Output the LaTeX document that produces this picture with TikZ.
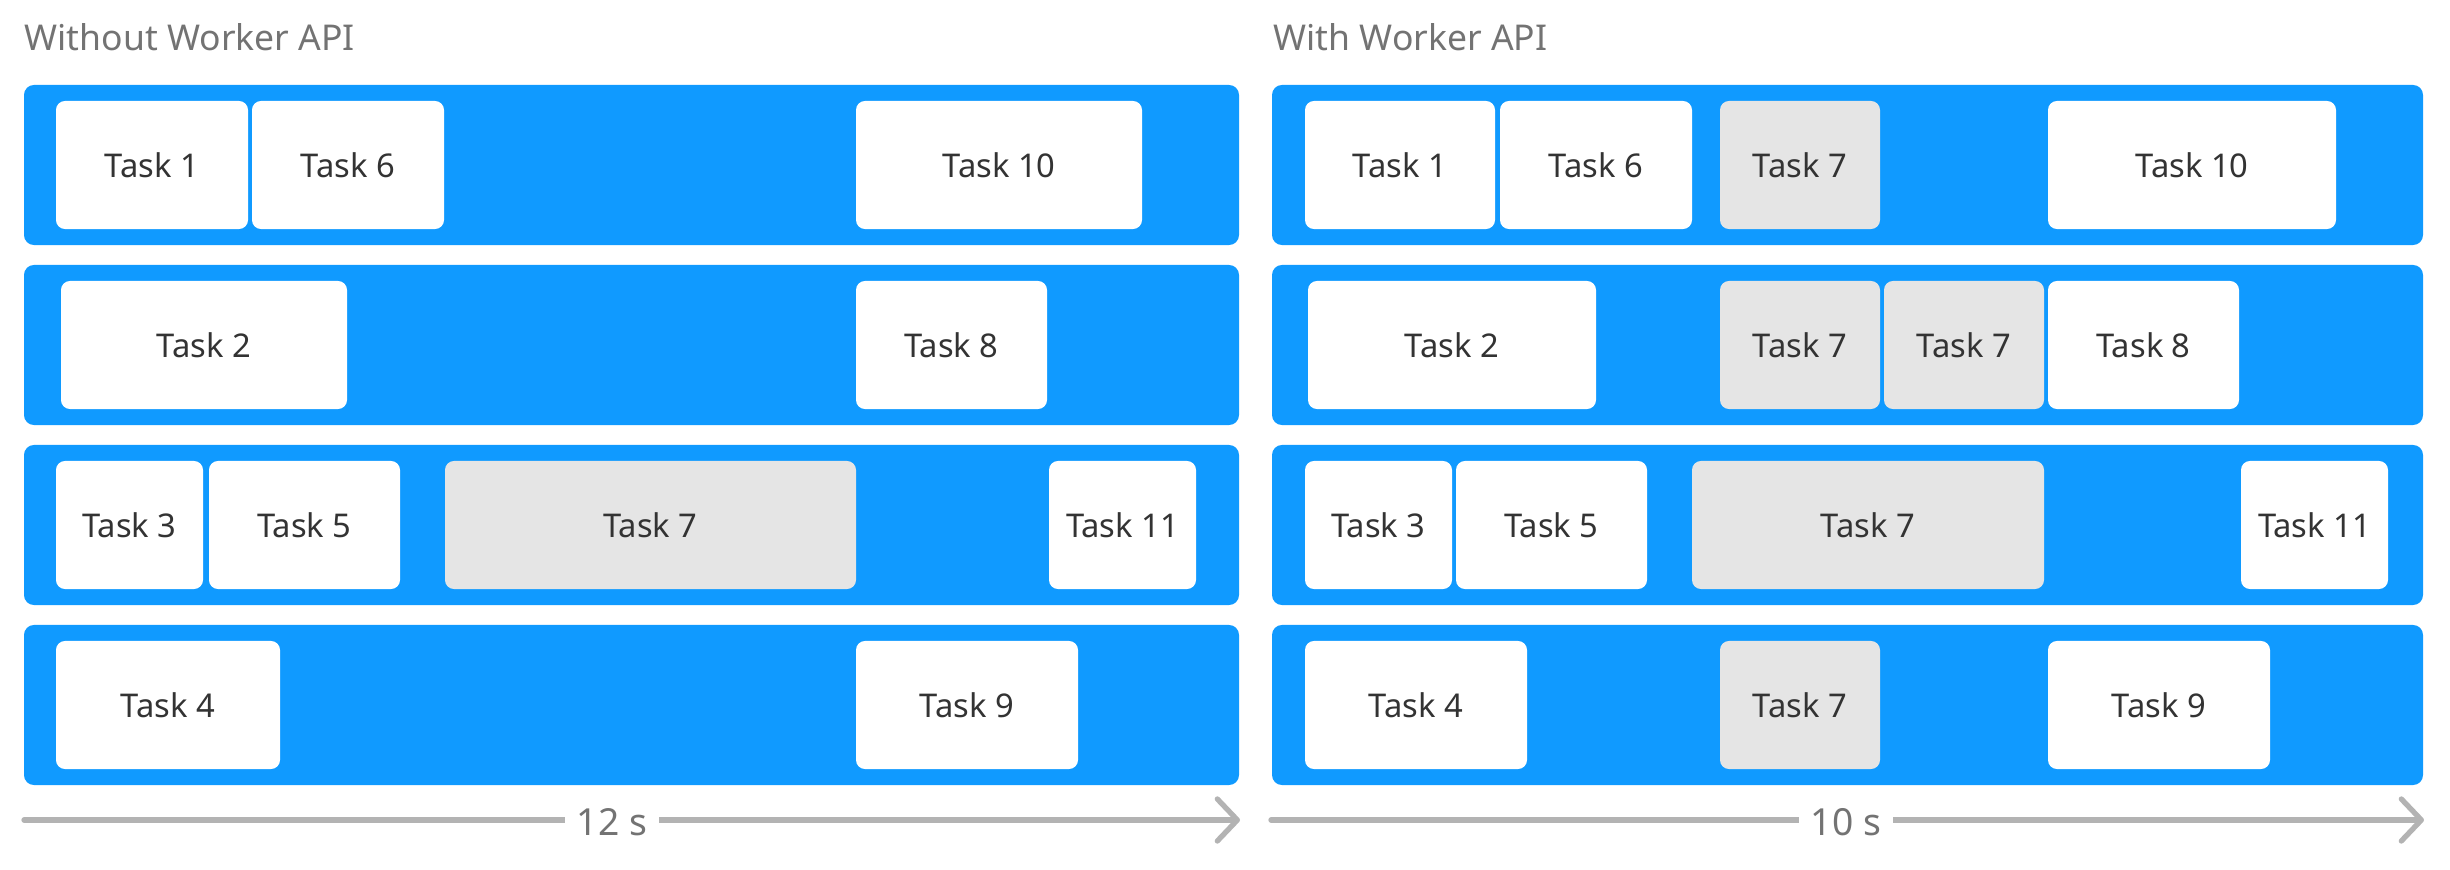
\documentclass[tikz,border=0pt]{standalone}
\usepackage{fontspec}
\setmainfont{Noto Sans}
\usetikzlibrary{arrows.meta}
\definecolor{laneblue}{HTML}{109AFF}
\definecolor{taskgray}{HTML}{E5E5E5}
\definecolor{tasktext}{HTML}{333333}
\definecolor{titlegray}{HTML}{737373}
\definecolor{axisgray}{HTML}{B3B3B3}
\newcommand\tk[6]{\node[#1, minimum width={(#4-#3)*0.01cm}] (#2) at ({(#3+#4)/2},#5) {#6};}
\newcommand\lanerow[4]{\node[lanebox, minimum width={(#4-#3)*0.01cm}] (#1) at ({(#3+#4)/2},#2) {};}
\begin{document}
\begin{tikzpicture}[x=0.01cm,y=-0.01cm,
  lanebox/.style={fill=laneblue, rounded corners=0.1cm, inner sep=0pt, minimum height=1.6cm},
  taskbox/.style={fill=white, rounded corners=0.09cm, inner sep=0pt, minimum height=1.28cm, text=tasktext, font=\fontsize{9.3}{11}\selectfont},
  graybox/.style={taskbox, fill=taskgray},
  paneltitle/.style={anchor=base west, inner sep=0pt, text=titlegray, font=\fontsize{10.1}{12}\selectfont},
  axisline/.style={draw=axisgray, line width=0.053cm, line cap=round, line join=round, -{Straight Barb[length=0.2cm, width=0.42cm, round]}},
  axislabel/.style={fill=white, text=titlegray, inner xsep=0.12cm, inner ysep=0.02cm, font=\fontsize{10.6}{12}\selectfont}
]
\useasboundingbox (0,0) rectangle (2450,870);

% titles
\node[paneltitle] (t1) at (24,51) {Without Worker API};
\node[paneltitle] (t2) at (1273,51) {With Worker API};

% lanes left
\lanerow{la1}{165}{24}{1239}
\lanerow{la2}{345}{24}{1239}
\lanerow{la3}{525}{24}{1239}
\lanerow{la4}{705}{24}{1239}
% lanes right
\lanerow{lb1}{165}{1272}{2423}
\lanerow{lb2}{345}{1272}{2423}
\lanerow{lb3}{525}{1272}{2423}
\lanerow{lb4}{705}{1272}{2423}

% left tasks
\tk{taskbox}{a1}{56}{248}{165}{Task 1}
\tk{taskbox}{a6}{252}{444}{165}{Task 6}
\tk{taskbox}{a10}{856}{1142}{165}{Task 10}
\tk{taskbox}{a2}{61}{347}{345}{Task 2}
\tk{taskbox}{a8}{856}{1047}{345}{Task 8}
\tk{taskbox}{a3}{56}{203}{525}{Task 3}
\tk{taskbox}{a5}{209}{400}{525}{Task 5}
\tk{graybox}{a7}{445}{856}{525}{Task 7}
\tk{taskbox}{a11}{1049}{1196}{525}{Task 11}
\tk{taskbox}{a4}{56}{280}{705}{Task 4}
\tk{taskbox}{a9}{856}{1078}{705}{Task 9}

% right tasks
\tk{taskbox}{b1}{1305}{1495}{165}{Task 1}
\tk{taskbox}{b6}{1500}{1692}{165}{Task 6}
\tk{graybox}{b7a}{1720}{1880}{165}{Task 7}
\tk{taskbox}{b10}{2048}{2336}{165}{Task 10}
\tk{taskbox}{b2}{1308}{1596}{345}{Task 2}
\tk{graybox}{b7b}{1720}{1880}{345}{Task 7}
\tk{graybox}{b7c}{1884}{2044}{345}{Task 7}
\tk{taskbox}{b8}{2048}{2239}{345}{Task 8}
\tk{taskbox}{b3}{1305}{1452}{525}{Task 3}
\tk{taskbox}{b5}{1456}{1647}{525}{Task 5}
\tk{graybox}{b7d}{1692}{2044}{525}{Task 7}
\tk{taskbox}{b11}{2241}{2388}{525}{Task 11}
\tk{taskbox}{b4}{1305}{1527}{705}{Task 4}
\tk{graybox}{b7e}{1720}{1880}{705}{Task 7}
\tk{taskbox}{b9}{2048}{2270}{705}{Task 9}

% axes
\coordinate (xa0) at (24,820);
\coordinate (xa1) at (1240,820);
\coordinate (xb0) at (1271,820);
\coordinate (xb1) at (2424,820);
\draw[axisline] (xa0) -- (xa1);
\draw[axisline] (xb0) -- (xb1);
\node[axislabel] (ta) at (612,822) {12 s};
\node[axislabel] (tb) at (1846,822) {10 s};
\end{tikzpicture}
\end{document}
